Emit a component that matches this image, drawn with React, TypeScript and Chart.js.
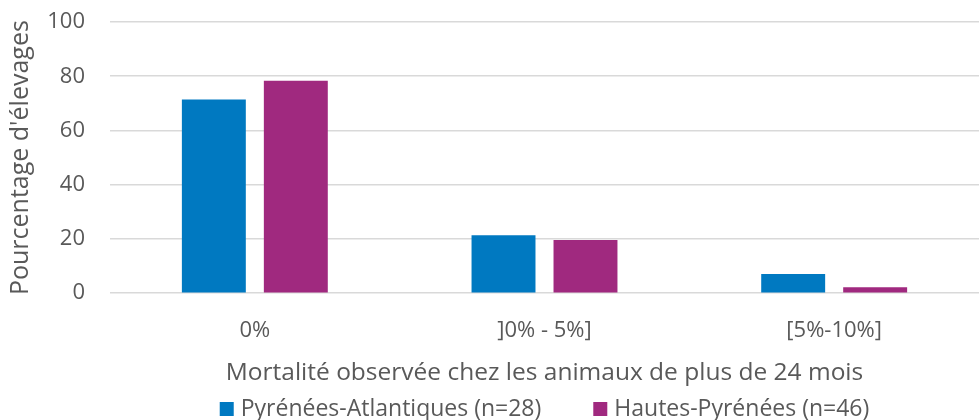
import React, { useEffect, useRef } from "react";
import { Chart, registerables } from "chart.js";

Chart.register(...registerables);

const categories = ["0%", "]0% - 5%]", "[5%-10%]"];
const pyreneesAtlantiques = [71.4, 21.4, 7.1];
const hautesPyrenees = [78.3, 19.6, 2.2];
const seriesNames = ["Pyrénées-Atlantiques (n=28)", "Hautes-Pyrénées (n=46)"];
const seriesColors = ["#0079C1", "#A0297F"];
const yTitle = "Pourcentage d'élevages";
const xTitle = "Mortalité observée chez les animaux de plus de 24 mois";

const FONT = "'Open Sans', 'Noto Sans', sans-serif";
const TEXT = "#595959";

const bottomLegend = {
  id: "bottomLegend",
  afterDraw(chart: any) {
    const ctx = chart.ctx;
    const size = 23;
    const box = 14;
    const boxGap = 7;
    const itemGap = 52;
    ctx.save();
    ctx.font = `${size}px ${FONT}`;
    const items = chart.data.datasets.map((ds: any) => ({
      text: ds.label,
      color: ds.backgroundColor,
      w: box + boxGap + ctx.measureText(ds.label).width,
    }));
    const total = items.reduce((s: number, it: any) => s + it.w, 0) + itemGap * (items.length - 1);
    const area = chart.chartArea;
    let x = (area.left + area.right) / 2 - total / 2;
    const y = chart.height - 11;
    ctx.textBaseline = "middle";
    ctx.textAlign = "left";
    for (const it of items) {
      ctx.fillStyle = it.color;
      ctx.fillRect(x, y - box / 2, box, box);
      ctx.fillStyle = TEXT;
      ctx.fillText(it.text, x + box + boxGap, y);
      x += it.w + itemGap;
    }
    ctx.restore();
  },
};

export default function App() {
  const ref = useRef<HTMLCanvasElement | null>(null);
  useEffect(() => {
    if (!ref.current) return;
    const chart = new Chart(ref.current, {
      type: "bar",
      data: {
        labels: categories,
        datasets: [
          {
            label: seriesNames[0],
            data: pyreneesAtlantiques,
            backgroundColor: seriesColors[0],
            categoryPercentage: 0.566,
            barPercentage: 0.78,
          },
          {
            label: seriesNames[1],
            data: hautesPyrenees,
            backgroundColor: seriesColors[1],
            categoryPercentage: 0.566,
            barPercentage: 0.78,
          },
        ],
      },
      plugins: [bottomLegend],
      options: {
        animation: false,
        responsive: false,
        maintainAspectRatio: false,
        layout: { padding: { top: 22, right: -4, left: 6, bottom: 28 } },
        plugins: {
          tooltip: { enabled: false },
          legend: { display: false },
        },
        scales: {
          x: {
            grid: { display: false },
            border: { display: false },
            ticks: {
              color: TEXT,
              font: { family: FONT, size: 22 },
              padding: 16,
            },
            title: {
              display: true,
              text: xTitle,
              color: TEXT,
              font: { family: FONT, size: 24.5 },
              padding: { top: -1, bottom: 4 },
            },
          },
          y: {
            min: 0,
            max: 100,
            ticks: {
              stepSize: 20,
              color: TEXT,
              font: { family: FONT, size: 22 },
              padding: 0,
            },
            grid: {
              color: "#D9D9D9",
              lineWidth: 1.5,
              drawTicks: true,
              tickLength: 25,
              tickColor: "rgba(0,0,0,0)",
            },
            border: { display: false },
            title: {
              display: true,
              text: yTitle,
              color: TEXT,
              font: { family: FONT, size: 25 },
              padding: { top: 0, bottom: 0 },
            },
            afterFit: (scale: any) => {
              scale.width = 104;
            },
          },
        },
      },
    });
    return () => chart.destroy();
  }, []);
  return (
    <div style={{ position: "fixed", left: 0, top: 0, width: 979, height: 420, background: "#fff" }}>
      <canvas ref={ref} width={979} height={420} style={{ width: 979, height: 420 }} />
    </div>
  );
}
